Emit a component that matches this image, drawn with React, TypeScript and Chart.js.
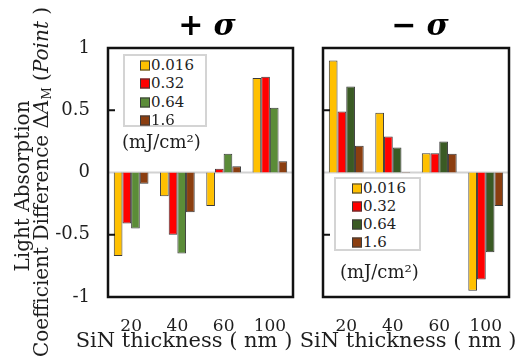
import React, { useEffect, useRef } from 'react';
import { Chart, registerables } from 'chart.js';

Chart.register(...registerables);

// ---------- data ----------
const categories = ['20', '40', '60', '100'];
const seriesLabels = ['0.016', '0.32', '0.64', '1.6'];
const unitLabel = '(mJ/cm²)';

// + sigma panel
const plus0016 = [-0.67, -0.19, -0.27, 0.76];
const plus032 = [-0.41, -0.5, 0.03, 0.77];
const plus064 = [-0.45, -0.65, 0.15, 0.52];
const plus16 = [-0.09, -0.32, 0.05, 0.09];

// - sigma panel
const minus0016 = [0.9, 0.48, 0.155, -0.95];
const minus032 = [0.49, 0.29, 0.155, -0.86];
const minus064 = [0.69, 0.2, 0.25, -0.64];
const minus16 = [0.215, 0.005, 0.15, -0.27];

const yTickValues = [-1, -0.5, 0, 0.5, 1];
const yTickLabels = ['-1', '-0.5', '0', '0.5', '1'];

const plusColors = ['#FFC000', '#FF0000', '#5B8C38', '#8B3E10'];
const minusColors = ['#FFC000', '#FF0000', '#3A5A24', '#8B3E10'];

const FONT = "'DejaVu Serif', serif";
const TEXT = '#1e1e1e';

const boxPlugin = {
  id: 'boxPlugin',
  beforeDatasetsDraw(chart: any) {
    const { ctx, chartArea } = chart;
    const y0 = chart.scales.y.getPixelForValue(0);
    ctx.save();
    ctx.strokeStyle = '#d2d2d2';
    ctx.lineWidth = 2;
    ctx.beginPath();
    ctx.moveTo(chartArea.left, y0);
    ctx.lineTo(chartArea.right, y0);
    ctx.stroke();
    ctx.restore();
  },
  afterDraw(chart: any) {
    const { ctx, chartArea } = chart;
    const y = chart.scales.y;
    ctx.save();
    ctx.strokeStyle = '#111';
    ctx.lineWidth = 2.5;
    ctx.strokeRect(chartArea.left, chartArea.top, chartArea.right - chartArea.left, chartArea.bottom - chartArea.top);
    ctx.lineWidth = 2;
    [0.5, -0.5].forEach((v) => {
      const py = y.getPixelForValue(v);
      ctx.beginPath();
      ctx.moveTo(chartArea.left, py);
      ctx.lineTo(chartArea.left + 7, py);
      ctx.stroke();
    });
    ctx.restore();
  },
};

function makeDatasets(values: number[][], colors: string[]) {
  return values.map((vals, i) => ({
    label: seriesLabels[i],
    data: vals,
    backgroundColor: colors[i],
    borderColor: '#3a3a3a',
    borderWidth: 1,
    categoryPercentage: 0.75,
    barPercentage: 1,
  }));
}

function Panel(props: { values: number[][]; colors: string[]; showY: boolean; padding: any; width: number; left: number }) {
  const ref = useRef<HTMLCanvasElement | null>(null);
  useEffect(() => {
    if (!ref.current) return;
    const chart = new Chart(ref.current, {
      type: 'bar',
      data: { labels: categories, datasets: makeDatasets(props.values, props.colors) as any },
      options: {
        animation: false,
        responsive: false,
        devicePixelRatio: 1,
        layout: { padding: props.padding },
        plugins: { legend: { display: false }, tooltip: { enabled: false } },
        scales: {
          x: {
            grid: { display: false },
            border: { display: false },
            ticks: { font: { family: FONT, size: 17 }, color: TEXT, padding: 11, maxRotation: 0, autoSkip: false },
            afterFit: (s: any) => {
              s.height = 64;
            },
          },
          y: {
            display: props.showY,
            min: -1,
            max: 1,
            grid: { display: false, drawTicks: false },
            border: { display: false },
            ticks: {
              stepSize: 0.5,
              padding: 18,
              font: { family: FONT, size: 18 },
              color: TEXT,
              callback: (v: any) => {
                const i = yTickValues.indexOf(Number(v));
                return i >= 0 ? yTickLabels[i] : '';
              },
            },
            afterFit: (s: any) => {
              s.width = props.showY ? 108 : 0;
            },
          },
        },
      },
      plugins: [boxPlugin],
    });
    return () => chart.destroy();
  }, []);
  return (
    <canvas
      ref={ref}
      width={props.width}
      height={361}
      style={{ position: 'absolute', left: props.left, top: 0, width: props.width, height: 361 }}
    />
  );
}

function Legend(props: { colors: string[]; x: number; y: number; w: number; h: number; swatchX: number; rowYs: number[]; unitX: number; unitY: number }) {
  return (
    <>
      <div
        style={{
          position: 'absolute',
          left: props.x,
          top: props.y,
          width: props.w,
          height: props.h,
          border: '2px solid #d4d4d4',
          boxSizing: 'border-box',
          background: 'white',
        }}
      />
      {seriesLabels.map((lab, i) => (
        <div
          key={lab}
          style={{
            position: 'absolute',
            left: props.swatchX,
            top: props.rowYs[i],
            transform: 'translateY(-50%)',
            display: 'flex',
            alignItems: 'center',
            fontFamily: FONT,
            fontSize: 15,
            color: TEXT,
            lineHeight: 1,
            whiteSpace: 'nowrap',
          }}
        >
          <span
            style={{
              display: 'inline-block',
              width: 8,
              height: 8,
              background: props.colors[i],
              border: '1px solid #3a3a3a',
              marginRight: 1,
            }}
          />
          <span>{lab}</span>
        </div>
      ))}
      <div
        style={{
          position: 'absolute',
          left: props.unitX,
          top: props.unitY,
          transform: 'translateY(-50%)',
          fontFamily: FONT,
          fontSize: 18,
          color: TEXT,
          lineHeight: 1,
          whiteSpace: 'nowrap',
        }}
      >
        {unitLabel}
      </div>
    </>
  );
}

export default function App() {
  const rot: React.CSSProperties = {
    position: 'absolute',
    transform: 'translate(-50%, -50%) rotate(-90deg)',
    whiteSpace: 'nowrap',
    fontFamily: FONT,
    fontSize: 20,
    color: TEXT,
    lineHeight: 1,
  };
  const xTitle: React.CSSProperties = {
    position: 'absolute',
    top: 340,
    transform: 'translate(-50%, -50%)',
    whiteSpace: 'nowrap',
    fontFamily: FONT,
    fontSize: 21,
    color: TEXT,
    lineHeight: 1,
  };
  const title: React.CSSProperties = {
    position: 'absolute',
    top: 25,
    transform: 'translate(-50%, -50%)',
    whiteSpace: 'nowrap',
    color: '#000',
    lineHeight: 1,
    fontSize: 30,
  };
  return (
    <div style={{ position: 'fixed', left: 0, top: 0, width: 519, height: 361, background: 'white', overflow: 'hidden' }}>
      <Panel
        values={[plus0016, plus032, plus064, plus16]}
        colors={plusColors}
        showY={true}
        padding={{ left: 0, right: 7, top: 48, bottom: 0 }}
        width={300}
        left={0}
      />
      <Panel
        values={[minus0016, minus032, minus064, minus16]}
        colors={minusColors}
        showY={false}
        padding={{ left: 23, right: 10, top: 48, bottom: 0 }}
        width={219}
        left={300}
      />
      <Legend colors={plusColors} x={123} y={54} w={84} h={73} swatchX={140} rowYs={[65, 83, 102, 120]} unitX={122} unitY={142} />
      <Legend colors={minusColors} x={334} y={177} w={87} h={74} swatchX={352} rowYs={[188, 206, 224, 242]} unitX={340} unitY={272} />
      <div style={{ ...rot, left: 22, top: 186 }}>Light Absorption</div>
      <div style={{ ...rot, left: 42, top: 182 }}>
        Coefficient Difference Δ<i>A</i>
        <sub style={{ fontSize: 12, verticalAlign: '-3px' }}>M</sub> (<i>Point</i> )
      </div>
      <div style={{ ...xTitle, left: 184 }}>SiN thickness ( nm )</div>
      <div style={{ ...xTitle, left: 408 }}>SiN thickness ( nm )</div>
      <div style={{ ...title, left: 207 }}>
        <span style={{ fontFamily: "'DejaVu Sans', sans-serif", fontWeight: 'bold' }}>+</span>
        <span style={{ fontFamily: FONT, fontWeight: 'bold', fontStyle: 'italic', marginLeft: 10 }}>σ</span>
      </div>
      <div style={{ ...title, left: 420 }}>
        <span style={{ fontFamily: "'DejaVu Sans', sans-serif", fontWeight: 'bold' }}>−</span>
        <span style={{ fontFamily: FONT, fontWeight: 'bold', fontStyle: 'italic', marginLeft: 10 }}>σ</span>
      </div>
    </div>
  );
}
